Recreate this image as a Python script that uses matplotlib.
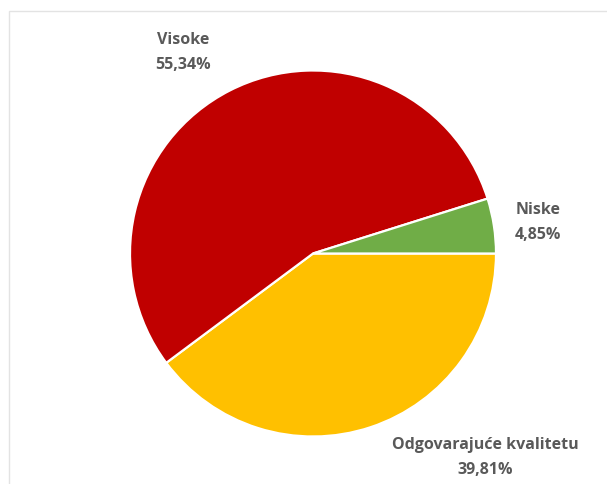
import matplotlib
matplotlib.use("Agg")
import matplotlib.pyplot as plt
from matplotlib.patches import Rectangle

labels = ["Odgovarajuće kvalitetu", "Visoke", "Niske"]
shares = [39.81, 55.34, 4.85]
pct_text = ["39,81%", "55,34%", "4,85%"]
colors = ["#FFC000", "#C00000", "#70AD47"]

W, H = 607, 484
fig = plt.figure(figsize=(W / 100, H / 100), dpi=100)
ax = fig.add_axes([0, 0, 1, 1])
ax.set_xlim(0, W)
ax.set_ylim(0, H)
ax.axis("off")

# faint chart-area border
fig.patches.append(Rectangle((9 / W, -0.1), 1.2, (H - 11) / H + 0.1,
                             transform=fig.transFigure, fill=False,
                             edgecolor="#E3E3E3", linewidth=1))

cx, cy, r = 313, H - 253.5, 183
ax.pie(shares, colors=colors, startangle=0, counterclock=False,
       center=(cx, cy), radius=r, frame=True,
       wedgeprops=dict(edgecolor="white", linewidth=1.6))
ax.set_xlim(0, W)
ax.set_ylim(0, H)
ax.axis("off")

# label positions (pixel coords from top)
label_pos = [(485, 445), (183, 40), (538, 210)]
for name, pct, (x, y) in zip(labels, pct_text, label_pos):
    ax.text(x, H - y, name, ha="center", va="center", fontsize=11.5,
            fontweight="bold", color="#595959", family="Open Sans")
    ax.text(x, H - y - 25, pct, ha="center", va="center", fontsize=11.5,
            fontweight="bold", color="#595959", family="Open Sans")

fig.savefig("out.png", dpi=100)
